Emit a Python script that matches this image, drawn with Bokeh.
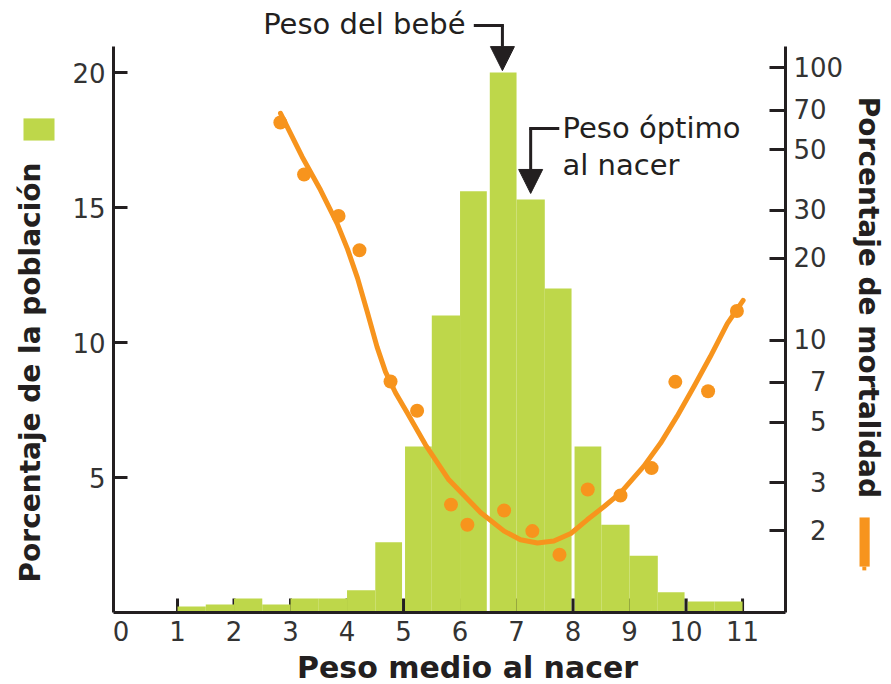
import numpy as np
from bokeh.plotting import figure
from bokeh.core.properties import value
from bokeh.models import (Range1d, LinearAxis, LogAxis, FixedTicker, CustomJSTickFormatter,
                          Arrow, NormalHead, ColumnDataSource, LogScale)
from bokeh.embed import file_html
from bokeh.resources import INLINE

# ---------------- data ----------------
bin_start = [1.0, 1.5, 2.0, 2.5, 3.0, 3.5, 4.0, 4.5, 5.0, 5.5,
             6.0, 6.5, 7.0, 7.5, 8.0, 8.5, 9.0, 9.5, 10.0, 10.5]
bin_end = [1.5, 2.0, 2.5, 3.0, 3.5, 4.0, 4.5, 5.0, 5.5, 6.0,
           6.5, 7.0, 7.5, 8.0, 8.5, 9.0, 9.5, 10.0, 10.5, 11.0]
population_pct = [0.22, 0.30, 0.52, 0.30, 0.52, 0.52, 0.82, 2.6, 6.15, 11.0,
                  15.6, 20.0, 15.3, 12.0, 6.15, 3.25, 2.1, 0.75, 0.41, 0.41]

mort_x = [2.82, 3.24, 3.85, 4.22, 4.77, 5.24, 5.84, 6.13, 6.78, 7.28, 7.76,
          8.26, 8.84, 9.39, 9.81, 10.39, 10.90]
mort_y = [63.0, 40.6, 28.6, 21.4, 7.05, 5.51, 2.49, 2.10, 2.37, 1.99, 1.63,
          2.83, 2.69, 3.39, 7.03, 6.49, 12.8]

curve_x = [2.823, 3.207, 3.531, 3.826, 4.009, 4.186, 4.363, 4.531, 4.681, 4.858,
           5.065, 5.389, 5.802, 6.363, 6.78, 7.07, 7.37, 7.66, 7.96, 8.25,
           8.55, 8.84, 9.25, 9.55, 9.84, 10.14, 10.43, 10.73, 11.01]
curve_y = [68.1, 47.1, 35.6, 26.8, 21.6, 16.9, 12.6, 9.45, 7.65, 6.41,
           5.41, 4.13, 3.07, 2.33, 1.99, 1.85, 1.80, 1.83, 1.95, 2.19,
           2.45, 2.75, 3.44, 4.19, 5.25, 6.76, 8.71, 11.5, 14.0]

x_ticks = [0, 1, 2, 3, 4, 5, 6, 7, 8, 9, 10, 11]
left_ticks = [5, 10, 15, 20]
right_ticks = [2, 3, 5, 7, 10, 20, 30, 50, 70, 100]

baby_weight = 6.75      # "Peso del bebé"
optimal_weight = 7.25   # "Peso óptimo al nacer"

# ---------------- style ----------------
GREEN = "#BED74A"
ORANGE = "#F7941D"
INK = "#231F20"
FONT = "DejaVu Sans"

LEFT_MAX = 20.96      # top of the left/right axis lines
RIGHT_MAX = 120.0

p = figure(width=891, height=684,
           x_range=Range1d(-0.133, 11.76), y_range=Range1d(0, 22.667),
           x_axis_type=None, y_axis_type=None,
           output_backend="svg", toolbar_location=None,
           min_border_left=113, min_border_right=106,
           min_border_top=0, min_border_bottom=72)
p.extra_y_ranges = {"mort": Range1d(1, 176.8)}
p.extra_y_scales = {"mort": LogScale()}
p.outline_line_color = None
p.background_fill_color = "white"
p.border_fill_color = "white"

# axes
xaxis = LinearAxis(ticker=FixedTicker(ticks=x_ticks))
yaxis = LinearAxis(ticker=FixedTicker(ticks=left_ticks), bounds=(0, LEFT_MAX))
raxis = LogAxis(y_range_name="mort", ticker=FixedTicker(ticks=right_ticks),
                bounds=(1, RIGHT_MAX),
                formatter=CustomJSTickFormatter(
                    code="return tick < 10 ? '\u2007' + tick : String(tick)"))
for ax in (xaxis, yaxis, raxis):
    ax.axis_line_color = INK
    ax.axis_line_width = 3
    ax.major_tick_line_color = INK
    ax.major_tick_line_width = 3
    ax.major_tick_out = 0
    ax.minor_tick_line_color = None
    ax.major_label_text_font = FONT
    ax.major_label_text_font_size = "26px"
    ax.major_label_text_color = "#333333"
    ax.major_label_standoff = 8
yaxis.major_tick_in = 14
raxis.major_tick_in = 16
xaxis.major_tick_in = 0
xaxis.major_label_standoff = 8
p.add_layout(xaxis, "below")
p.add_layout(yaxis, "left")
p.add_layout(raxis, "right")

# small x ticks drawn behind the bars
tick_marks = x_ticks[1:]
p.segment(x0=tick_marks, y0=[0] * len(tick_marks), x1=tick_marks,
          y1=[0.52] * len(tick_marks), line_color=INK, line_width=3)

# histogram
src = ColumnDataSource(dict(left=bin_start, right=bin_end, top=population_pct))
p.quad(left="left", right="right", bottom=0, top="top", source=src,
       fill_color=GREEN, line_color=None)

# white separations between some bars
gap_x = [5, 6.5, 8, 10]
p.segment(x0=gap_x, y0=[0] * 4, x1=gap_x, y1=[LEFT_MAX] * 4,
          line_color="white", line_width=3)
gap_ticks = [t for t in x_ticks if t in gap_x]
p.segment(x0=gap_ticks, y0=[0] * len(gap_ticks), x1=gap_ticks,
          y1=[0.52] * len(gap_ticks), line_color=INK, line_width=3)

# mortality curve and points
p.line(curve_x, curve_y, y_range_name="mort", line_color=ORANGE, line_width=5,
       line_join="round", line_cap="round")
p.scatter(mort_x, mort_y, y_range_name="mort", size=14, fill_color=ORANGE,
          line_color=None)


def add_text(x, y, txt, size, bold=False, angle=0.0, align="left"):
    p.text(x=[x], y=[y], text=[txt], angle=angle, text_align=align,
           text_baseline="alphabetic", text_font=value(FONT),
           text_font_style="bold" if bold else "normal",
           text_font_size=value(size), text_color=INK, level="overlay")


# axis titles
add_text(-1.602, 8.89, "Porcentaje de la población", "28px", bold=True,
         angle=np.pi / 2, align="center")
add_text(13.23, 11.67, "Porcentaje de mortalidad", "28px", bold=True,
         angle=-np.pi / 2, align="center")
add_text(6.133, -2.037, "Peso medio al nacer", "30px", bold=True, align="center")

# legend swatches
p.quad(left=[-1.726], right=[-1.177], bottom=[17.48], top=[18.30],
       fill_color=GREEN, line_color=None, level="overlay")
p.quad(left=[13.07, 13.12], right=[13.25, 13.19], bottom=[1.70, 1.56], top=[3.52, 1.70],
       fill_color=ORANGE, line_color=None, level="overlay")

# annotations
add_text(6.097, 21.78, "Peso del bebé", "29px", align="right")
add_text(7.814, 17.93, "Peso óptimo", "29px")
add_text(7.814, 16.59, "al nacer", "29px")

p.add_layout(Arrow(end=None, x_start=6.27, y_start=21.74, x_end=baby_weight, y_end=21.74,
                   line_color=INK, line_width=3, line_cap="square"))
p.add_layout(Arrow(end=NormalHead(size=24, fill_color=INK, line_color=INK),
                   x_start=baby_weight, y_start=21.74, x_end=baby_weight, y_end=20.07,
                   line_color=INK, line_width=3))
p.add_layout(Arrow(end=None, x_start=7.73, y_start=17.93, x_end=optimal_weight, y_end=17.93,
                   line_color=INK, line_width=3, line_cap="square"))
p.add_layout(Arrow(end=NormalHead(size=24, fill_color=INK, line_color=INK),
                   x_start=optimal_weight, y_start=17.93, x_end=optimal_weight, y_end=15.52,
                   line_color=INK, line_width=3))

open("out.html", "w").write(file_html(p, INLINE))
